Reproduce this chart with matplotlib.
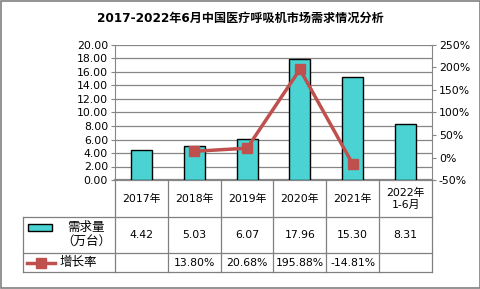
import numpy as np
import matplotlib
matplotlib.use("Agg")
import matplotlib.pyplot as plt
from matplotlib.patches import Rectangle

plt.rcParams['font.family'] = ['DejaVu Sans', 'Noto Sans CJK SC']

title = "2017-2022年6月中国医疗呼吸机市场需求情况分析"
categories = ["2017年", "2018年", "2019年", "2020年", "2021年", "2022年\n1-6月"]
demand = [4.42, 5.03, 6.07, 17.96, 15.30, 8.31]
growth = [np.nan, 13.80, 20.68, 195.88, -14.81, np.nan]
demand_labels = ["4.42", "5.03", "6.07", "17.96", "15.30", "8.31"]
growth_labels = ["", "13.80%", "20.68%", "195.88%", "-14.81%", ""]
series_names = ["需求量\n（万台）", "增长率"]

W, H = 481, 289
fig = plt.figure(figsize=(W / 100, H / 100), dpi=100)

x0, x1, ytop, ybot = 115, 432, 45, 180
ax = fig.add_axes([x0 / W, 1 - ybot / H, (x1 - x0) / W, (ybot - ytop) / H])
bar_c = "#4BD3D3"
line_c = "#C0504D"
grid_c = "#868686"
x = np.arange(len(categories))
ax.bar(x, demand, width=0.4, color=bar_c, edgecolor="black", linewidth=1.0, zorder=3)
ax.set_xlim(-0.5, len(categories) - 0.5)
ax.set_ylim(0, 20)
ax.set_yticks(np.arange(0, 20.01, 2))
ax.set_yticklabels([f"{v:.2f}" for v in np.arange(0, 20.01, 2)], fontsize=7.8)
ax.set_xticks([])
ax.grid(axis="y", color=grid_c, linewidth=0.9, zorder=0)
for s in ["top", "right"]:
    ax.spines[s].set_visible(False)
ax.spines["left"].set_color(grid_c)
ax.spines["bottom"].set_color(grid_c)
ax.spines["bottom"].set_linewidth(1.6)
ax.tick_params(axis="y", length=3, color=grid_c, pad=2)

ax2 = ax.twinx()
ax2.plot(x, growth, color=line_c, linewidth=2.5, marker="s", markersize=7,
         markerfacecolor=line_c, markeredgecolor=line_c, zorder=4)
ax2.set_ylim(-50, 250)
ax2.set_yticks(np.arange(-50, 251, 50))
ax2.set_yticklabels([f"{v}%" for v in range(-50, 251, 50)], fontsize=7.8)
for s in ["top", "left", "bottom"]:
    ax2.spines[s].set_visible(False)
ax2.spines["right"].set_color(grid_c)
ax2.tick_params(axis="y", length=3, color=grid_c, pad=2)

# table overlay
axt = fig.add_axes([0, 0, 1, 1])
axt.set_xlim(0, W)
axt.set_ylim(H, 0)
axt.axis("off")
tc = "#808080"
cols = np.linspace(x0, x1, len(categories) + 1)
r1, r2, r3 = 217, 253, 272
lx = 23
for cx in cols:
    axt.plot([cx, cx], [ybot, r3], color=tc, lw=0.9)
axt.plot([lx, lx], [r1, r3], color=tc, lw=0.9)
for yy in [r1, r2, r3]:
    axt.plot([lx, x1], [yy, yy], color=tc, lw=0.9)
fs = 7.8
for i in range(len(categories)):
    cx = (cols[i] + cols[i + 1]) / 2
    axt.text(cx, (ybot + r1) / 2, categories[i], ha="center", va="center", fontsize=fs, linespacing=1.25)
    axt.text(cx, (r1 + r2) / 2, demand_labels[i], ha="center", va="center", fontsize=fs)
    axt.text(cx, (r2 + r3) / 2, growth_labels[i], ha="center", va="center", fontsize=fs)
axt.add_patch(Rectangle((28, 224), 24, 6.5, facecolor=bar_c, edgecolor="black", lw=1.0))
axt.text(86, (r1 + r2) / 2, series_names[0], ha="center", va="center", fontsize=9, linespacing=1.2)
axt.plot([27, 55], [263, 263], color=line_c, lw=2.5)
axt.plot([41], [263], marker="s", markersize=7, color=line_c)
axt.text(60, (r2 + r3) / 2, series_names[1], ha="left", va="center", fontsize=9)

axt.text(W / 2, 18, title, ha="center", va="center", fontsize=8.7, fontweight="bold")
axt.add_patch(Rectangle((0.5, 0.5), W - 1.5, H - 1.5, fill=False, edgecolor="#808080", lw=1.2))

fig.savefig("out.png", dpi=100)
